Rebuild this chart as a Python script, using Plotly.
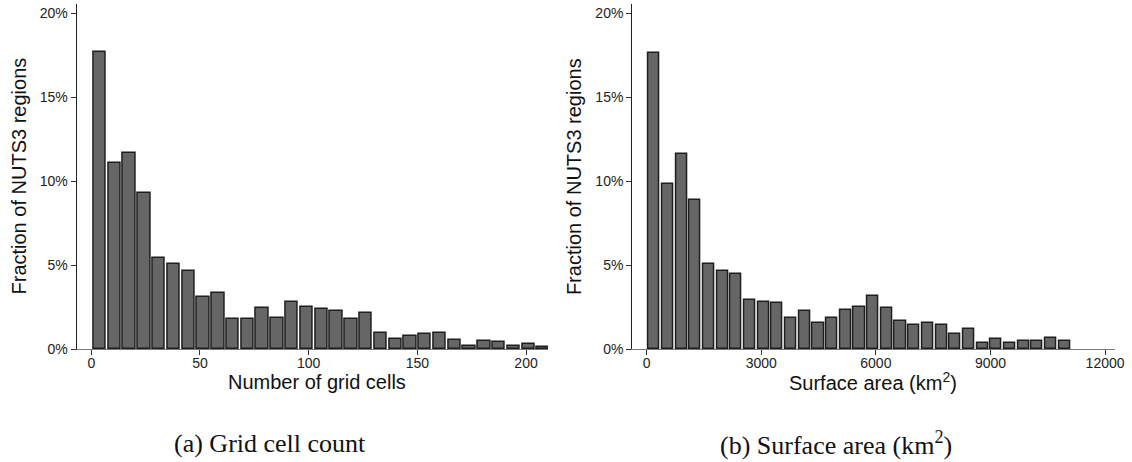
import plotly.graph_objects as go

W, H = 1132, 462

# ---- data (percent of NUTS3 regions per bin) ----
grid_bin_centers = [3.9, 10.7, 17.5, 24.3, 31.1, 37.9, 44.7, 51.5, 58.3, 65.1,
                    71.9, 78.7, 85.5, 92.3, 99.1, 105.9, 112.7, 119.5, 126.3, 133.1,
                    139.9, 146.7, 153.5, 160.3, 167.1, 173.9, 180.7, 187.5, 194.3, 201.1,
                    207.9]
grid_fraction = [17.73, 11.09, 11.71, 9.32, 5.41, 5.07, 4.67, 3.12, 3.36, 1.79,
                 1.79, 2.47, 1.87, 2.82, 2.49, 2.41, 2.27, 1.79, 2.17, 0.93,
                 0.60, 0.78, 0.87, 0.93, 0.54, 0.20, 0.46, 0.40, 0.20, 0.32,
                 0.14]

area_bin_centers = [191, 549, 908, 1266, 1624, 1983, 2341, 2699, 3057, 3416,
                    3774, 4132, 4491, 4849, 5207, 5566, 5924, 6282, 6640, 6999,
                    7357, 7715, 8074, 8432, 8790, 9149, 9507, 9865, 10223, 10582,
                    10940]
area_fraction = [17.67, 9.86, 11.65, 8.91, 5.09, 4.67, 4.45, 2.94, 2.82, 2.72,
                 1.87, 2.29, 1.57, 1.87, 2.35, 2.49, 3.14, 2.43, 1.65, 1.41,
                 1.57, 1.41, 0.87, 1.17, 0.34, 0.58, 0.34, 0.48, 0.48, 0.64,
                 0.48]

grid_ticks = [0, 50, 100, 150, 200]
grid_tick_labels = ["0", "50", "100", "150", "200"]
area_ticks = [0, 3000, 6000, 9000, 12000]
area_tick_labels = ["0", "3000", "6000", "9000", "12000"]
y_ticks = [0, 5, 10, 15, 20]
y_tick_labels = ["0%", "5%", "10%", "15%", "20%"]

y_title = "Fraction of NUTS3 regions"
x_title_a = "Number of grid cells"
x_title_b = "Surface area (km<sup>2</sup>)"
caption_a = "(a) Grid cell count"
caption_b = "(b) Surface area (km<sup>2</sup>)"

# ---- styling ----
BAR_FILL = "#666666"
BAR_EDGE = "#1e1e1e"
SANS = "Liberation Sans, Arial, sans-serif"
SERIF = "Liberation Serif, Times New Roman, serif"


def px_x(p):
    return p / W


def px_y(p):
    return 1 - p / H


fig = go.Figure()
fig.add_trace(go.Bar(x=grid_bin_centers, y=grid_fraction, width=5.7,
                     marker=dict(color=BAR_FILL, line=dict(color=BAR_EDGE, width=1.5)),
                     xaxis="x", yaxis="y", showlegend=False))
fig.add_trace(go.Bar(x=area_bin_centers, y=area_fraction, width=292,
                     marker=dict(color=BAR_FILL, line=dict(color=BAR_EDGE, width=1.5)),
                     xaxis="x2", yaxis="y2", showlegend=False))

y_top = 4
y_bot = 349
ydom = [px_y(y_bot), px_y(y_top)]

common_x = dict(showgrid=False, zeroline=False, showline=True, linecolor="#7a7a7a",
                linewidth=1.2, ticks="outside", ticklen=5, tickwidth=1,
                tickcolor="#333333", automargin=False, ticklabelstandoff=-4,
                tickfont=dict(family=SANS, size=14, color="#222222"))
common_y = dict(showgrid=False, zeroline=False, showline=True, linecolor="#222222",
                linewidth=1.2, ticks="outside", ticklen=5, tickwidth=1,
                tickcolor="#333333", automargin=False, tickvals=y_ticks,
                ticktext=y_tick_labels, range=[0, 20.57],
                tickfont=dict(family=SANS, size=14, color="#222222"))

fig.update_layout(
    width=W, height=H,
    margin=dict(l=0, r=0, t=0, b=0),
    paper_bgcolor="white", plot_bgcolor="white",
    bargap=0,
    xaxis=dict(domain=[px_x(76.7), px_x(548)], range=[-6.7, 210.1],
               tickvals=grid_ticks, ticktext=grid_tick_labels, anchor="y", **common_x),
    yaxis=dict(domain=ydom, anchor="x", **common_y),
    xaxis2=dict(domain=[px_x(632.3), px_x(1115)], range=[-377, 12260],
                tickvals=area_ticks, ticktext=area_tick_labels, anchor="y2", **common_x),
    yaxis2=dict(domain=ydom, anchor="x2", **common_y),
)

ann = []
# y titles
for xc in (18, 573.6):
    ann.append(dict(text=y_title, x=px_x(xc), y=px_y(176.5), xref="paper", yref="paper",
                    xanchor="center", yanchor="middle", textangle=-90, showarrow=False,
                    font=dict(family=SANS, size=20, color="#111111")))
# x titles
ann.append(dict(text=x_title_a, x=px_x(317), y=px_y(382), xref="paper", yref="paper",
                xanchor="center", yanchor="middle", showarrow=False,
                font=dict(family=SANS, size=20, color="#111111")))
ann.append(dict(text=x_title_b, x=px_x(873), y=px_y(381), xref="paper", yref="paper",
                xanchor="center", yanchor="middle", showarrow=False,
                font=dict(family=SANS, size=20, color="#111111")))
# captions
ann.append(dict(text=caption_a, x=px_x(270), y=px_y(443), xref="paper", yref="paper",
                xanchor="center", yanchor="middle", showarrow=False,
                font=dict(family=SERIF, size=26, color="#111111")))
ann.append(dict(text=caption_b, x=px_x(836), y=px_y(443), xref="paper", yref="paper",
                xanchor="center", yanchor="middle", showarrow=False,
                font=dict(family=SERIF, size=26, color="#111111")))
fig.update_layout(annotations=ann)

fig.write_html("out.html")
